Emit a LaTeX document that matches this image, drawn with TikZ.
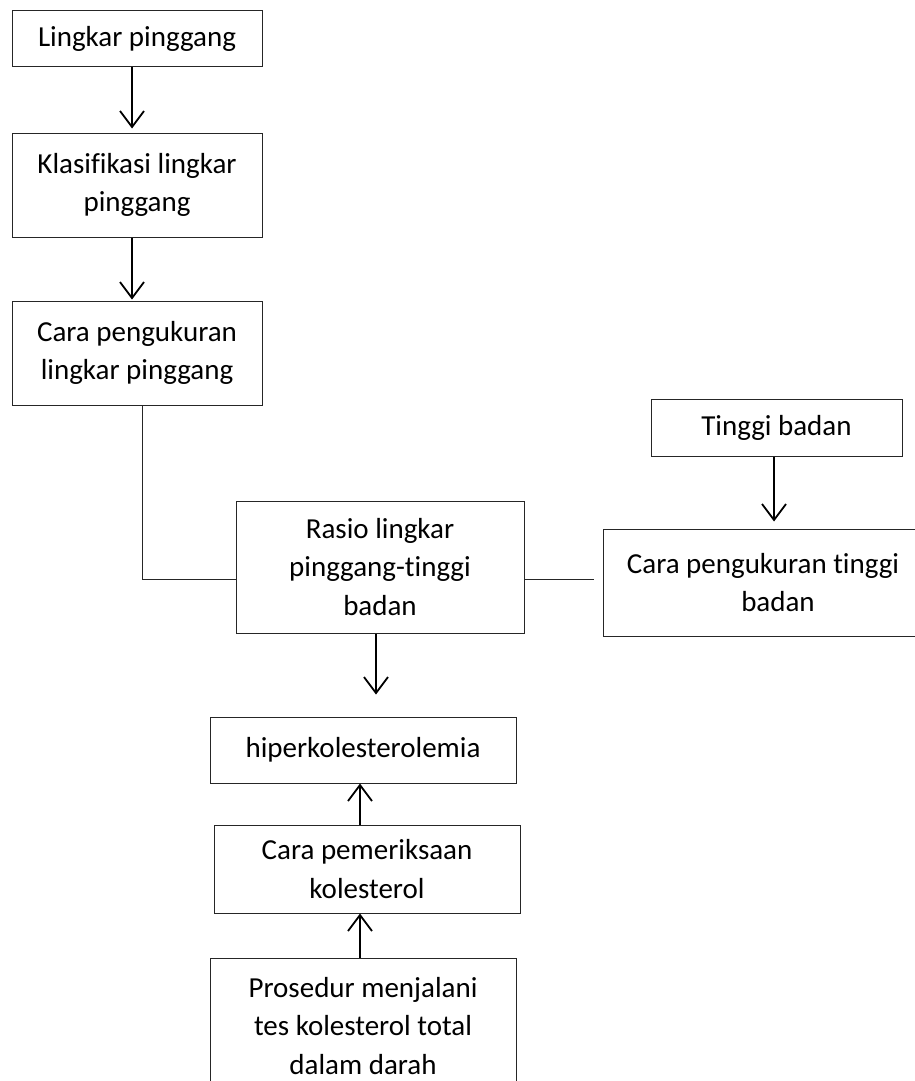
\documentclass[tikz,border=0pt]{standalone}
\usepackage{fontspec}
\setmainfont[Ligatures=NoCommon]{Carlito}
\usetikzlibrary{arrows.meta}
\tikzset{
  box/.style={draw=black!85, line width=1pt, inner sep=0pt, align=center,
    font=\fontsize{29}{38.5}\selectfont},
  arr/.style={line width=1.8pt, -{Straight Barb[length=16pt,width=24pt,line width=1.8pt]}},
  link/.style={line width=1pt, draw=black!85}
}
\begin{document}
\begin{tikzpicture}[x=1pt,y=-1pt]
\useasboundingbox (0,0) rectangle (914,1081);
\node[box, minimum width=250pt, minimum height=56pt] (lp) at (137,39) {Lingkar pinggang};
\node[box, minimum width=250pt, minimum height=104pt] (kl) at (137,185) {Klasifikasi lingkar\\pinggang};
\node[box, minimum width=250pt, minimum height=104pt] (cl) at (137,353) {Cara pengukuran\\lingkar pinggang};
\node[box, minimum width=288pt, minimum height=132pt] (rasio) at (380,567) {Rasio lingkar\\pinggang-tinggi\\badan};
\node[box, minimum width=251pt, minimum height=57pt] (tb) at (776.5,427.5) {Tinggi badan};
\node[box, minimum width=350pt, minimum height=107pt] (ct) at (778,582.5) {Cara pengukuran tinggi\hspace*{30pt}\\badan};
\node[box, minimum width=306pt, minimum height=66pt] (hiper) at (363,750) {hiperkolesterolemia};
\node[box, minimum width=306pt, minimum height=88pt] (pem) at (367,869) {Cara pemeriksaan\\kolesterol};
\node[box, minimum width=306pt, minimum height=136pt] (pros) at (363,1026) {Prosedur menjalani\\tes kolesterol total\\dalam darah};

\draw[arr, shorten >=4pt] (lp.south -| 132,0) -- (kl.north -| 132,0);
\draw[arr, shorten >=1pt] (kl.south -| 132,0) -- (cl.north -| 132,0);
\draw[arr, shorten >=7pt] (tb.south -| 774,0) -- (ct.north -| 774,0);
\draw[arr, shorten >=22pt] (rasio.south -| 376,0) -- (hiper.north -| 376,0);
\draw[arr] (pem.north -| 360,0) -- (hiper.south -| 360,0);
\draw[arr] (pros.north -| 360,0) -- (pem.south -| 360,0);

\draw[link] (cl.south -| 142,0) |- (rasio.west |- 0,579);
\draw[link] (rasio.east |- 0,579) -- ([xshift=-9pt]ct.west |- 0,579);
\end{tikzpicture}
\end{document}
